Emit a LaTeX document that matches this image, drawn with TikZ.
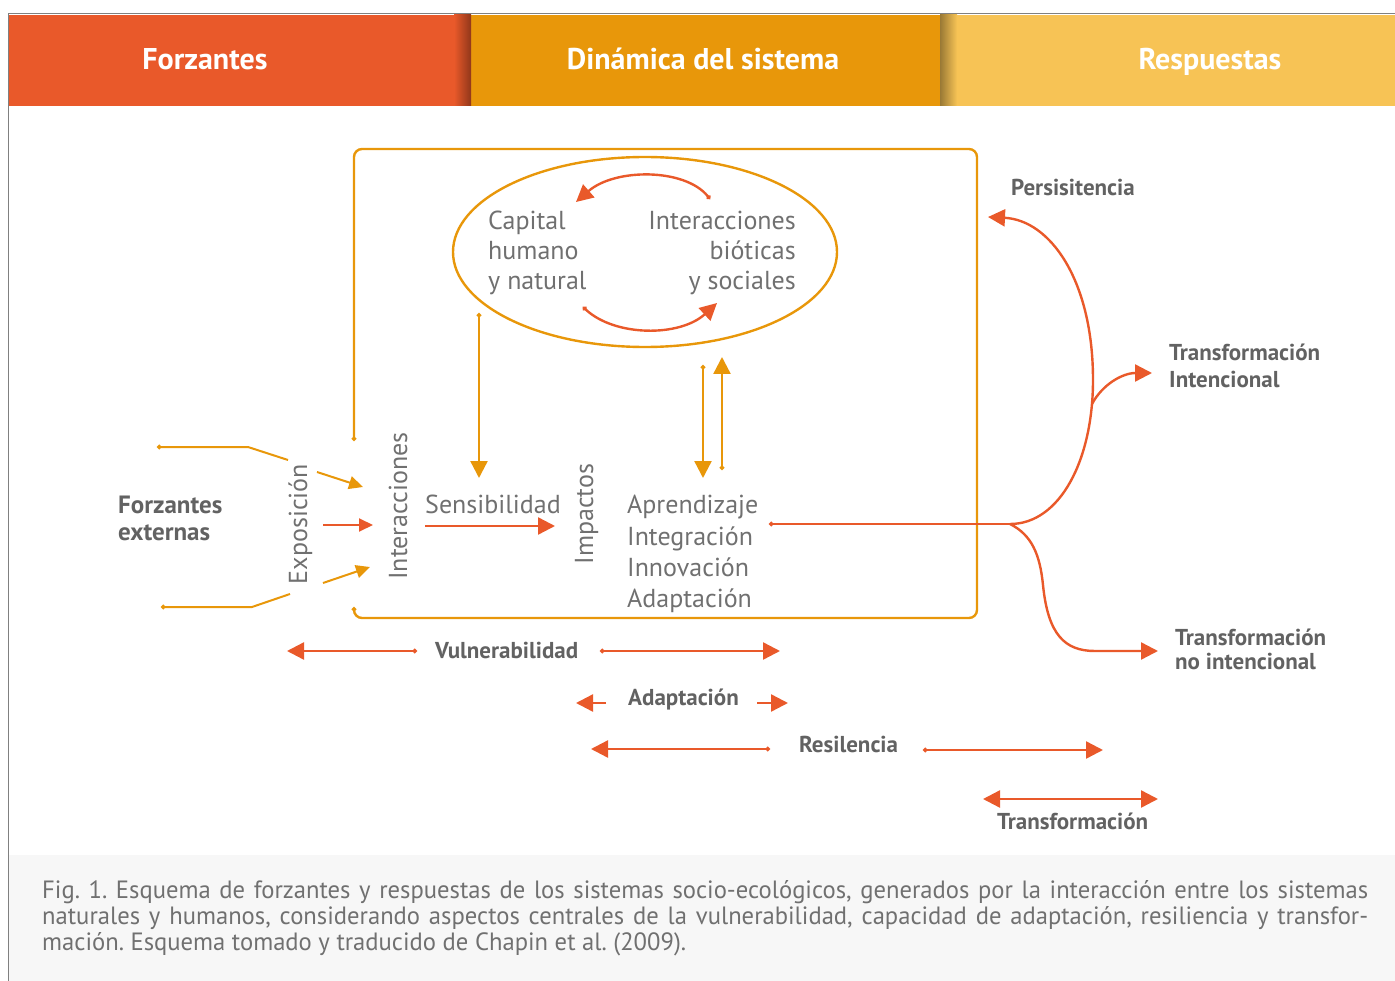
\documentclass[tikz,border=0pt]{standalone}
\usepackage{fontspec}
\setmainfont{PT Sans}
\newfontfamily\capfont[FakeStretch=0.985]{PT Sans}
\usetikzlibrary{arrows.meta,calc,shapes.geometric}
\definecolor{cRed}{HTML}{E9592A}
\definecolor{cOr}{HTML}{E8970A}
\definecolor{cYel}{HTML}{F7C355}
\definecolor{cTxt}{HTML}{626262}
\definecolor{cLight}{HTML}{707070}
\definecolor{cCap}{HTML}{F7F7F7}
\tikzset{
  ptri/.tip={Triangle[length=17pt,width=17pt]},
  stri/.tip={Triangle[length=14pt,width=13pt]},
  pdot/.tip={Circle[length=4.5pt]},
  hdr/.style={text=white,font=\bfseries\fontsize{30}{34}\selectfont,anchor=base,inner sep=0pt},
  lbl/.style={text=cTxt,font=\bfseries\fontsize{23}{27}\selectfont,anchor=base west,inner sep=0pt},
  bigl/.style={text=cTxt,font=\bfseries\fontsize{25}{28}\selectfont,anchor=base west,inner sep=0pt},
  lite/.style={text=cLight,font=\fontsize{26}{30}\selectfont,inner sep=0pt},
  rl/.style={draw=cRed,line width=2.4pt},
  ol/.style={draw=cOr,line width=2.4pt},
  thin/.style={line width=2pt}
}
\begin{document}
\frenchspacing
\begin{tikzpicture}[x=1pt,y=-1pt]
\useasboundingbox (0,0) rectangle (1395,981);
% header bands
\fill[cRed] (8,15) rectangle (471,106);
\fill[cOr] (471,15) rectangle (940,106);
\fill[cYel] (940,15) rectangle (1395,106);
\shade[left color=cRed, right color=cRed!62!black] (454,15) rectangle (471,106);
\shade[left color=cYel!62!black, right color=cYel] (940,15) rectangle (957,106);
\draw[gray,line width=1pt] (8,14) -- (1395,14);
\draw[gray,line width=1pt] (8,14) -- (8,981);
\node[hdr] (h1) at (205,70) {Forzantes};
\node[hdr] (h2) at (703,70) {Dinámica del sistema};
\node[hdr] (h3) at (1210,70) {Respuestas};
% caption background
\fill[cCap] (9,855) rectangle (1395,981);
\node[anchor=north west,inner sep=0pt,text width=1326pt,align=justify,text=cLight,
      font=\capfont\fontsize{25}{26}\selectfont] (cap) at (42,880)
 {Fig. 1. Esquema de forzantes y respuestas de los sistemas socio-ecológicos, generados por la interacción entre los sistemas\linebreak naturales y humanos, considerando aspectos centrales de la vulnerabilidad, capacidad de adaptación, resiliencia y transfor-\linebreak mación. Esquema tomado y traducido de Chapin et al. (2009).};
% main frame
\coordinate (fA) at (354,441);
\coordinate (fB) at (354,149);
\coordinate (fC) at (977,149);
\coordinate (fD) at (977,618);
\coordinate (fE) at (354,618);
\coordinate (fF) at (354,607);
\draw[ol,rounded corners=8pt,pdot-pdot] (fA) -- (fB) -- (fC) -- (fD) -- (fE) -- (fF);
% ellipse
\node[draw=cOr,line width=2.4pt,ellipse,minimum width=384pt,minimum height=190pt,inner sep=0pt] (ell) at (645,252) {};
\node[lite,anchor=base west] (c1) at (488,230) {Capital};
\node[lite,anchor=base west] (c2) at (488,260) {humano};
\node[lite,anchor=base west] (c3) at (488,290) {y natural};
\node[lite,anchor=base east] (i1) at (796,230) {Interacciones};
\node[lite,anchor=base east] (i2) at (796,260) {bióticas};
\node[lite,anchor=base east] (i3) at (796,290) {y sociales};
\coordinate (a1s) at (710,199);
\coordinate (a1e) at (576,202);
\coordinate (a2s) at (583,307);
\coordinate (a2e) at (717,303);
\draw[rl,pdot-ptri] (a1s) .. controls (685,168) and (615,168) .. (a1e);
\draw[rl,pdot-ptri] (a2s) .. controls (615,337) and (680,337) .. (a2e);
% vertical arrows
\coordinate (v1s) at (479,313); \coordinate (v1e) at (479,478);
\coordinate (v2s) at (703,365); \coordinate (v2e) at (703,478);
\coordinate (v3s) at (722,470); \coordinate (v3e) at (722,357);
\draw[ol,pdot-ptri] (v1s) -- (v1e);
\draw[ol,pdot-ptri] (v2s) -- (v2e);
\draw[ol,pdot-ptri] (v3s) -- (v3e);
% inner texts
\node[lite,anchor=base west] (sens) at (425,513) {Sensibilidad};
\coordinate (s1) at (425,526); \coordinate (s2) at (555,526);
\draw[rl,-ptri] (s1) -- (s2);
\node[lite,anchor=base,rotate=90] (inter) at (407,506) {Interacciones};
\node[lite,anchor=base,rotate=90] (imp) at (593,514) {Impactos};
\node[lite,anchor=base,rotate=90] (expo) at (307,524) {Exposición};
\node[lite,anchor=base west] (ap1) at (627,513) {Aprendizaje};
\node[lite,anchor=base west] (ap2) at (627,545) {Integración};
\node[lite,anchor=base west] (ap3) at (627,576) {Innovación};
\node[lite,anchor=base west] (ap4) at (627,607) {Adaptación};
% forcing
\node[bigl] (fe1) at (118,513) {Forzantes};
\node[bigl] (fe2) at (118,540) {externas};
\coordinate (p1) at (157,447); \coordinate (p2) at (248,447); \coordinate (p3) at (288,460);
\draw[ol,thin,pdot-] (p1) -- (p2) -- (p3);
\coordinate (q1) at (161,607); \coordinate (q2) at (252,607); \coordinate (q3) at (290,594);
\draw[ol,thin,pdot-] (q1) -- (q2) -- (q3);
\coordinate (e1s) at (317,472); \coordinate (e1e) at (363,487);
\coordinate (e2s) at (323,525); \coordinate (e2e) at (373,525);
\coordinate (e3s) at (323,583); \coordinate (e3e) at (370,567);
\draw[ol,thin,-stri] (e1s) -- (e1e);
\draw[rl,thin,-stri] (e2s) -- (e2e);
\draw[ol,thin,-stri] (e3s) -- (e3e);
% responses
\coordinate (apd) at (769,524);
\coordinate (junc) at (1010,524);
\coordinate (persT) at (988,217);
\coordinate (br) at (1092,404);
\coordinate (intT) at (1152,373);
\coordinate (ntT) at (1158,651);
\draw[rl,pdot-] (apd) -- (junc);
\draw[rl,-ptri] (junc) .. controls (1060,524) and (1093,460) .. (1093,380) .. controls (1093,280) and (1050,220) .. (persT);
\draw[rl,-ptri] (br) .. controls (1102,385) and (1122,373) .. (intT);
\draw[rl,-ptri] (junc) .. controls (1032,535) and (1040,555) .. (1043,585) .. controls (1048,635) and (1065,651) .. (1095,651) -- (ntT);
\node[lbl] (pers) at (1011,196) {Persisitencia};
\node[lbl] (ti1) at (1169,361) {Transformación};
\node[lbl] (ti2) at (1169,388) {Intencional};
\node[lbl] (tn1) at (1175,645) {Transformación};
\node[lbl] (tn2) at (1175,669) {no intencional};
% bottom scale arrows
\coordinate (vu1) at (417,651); \coordinate (vu2) at (287,651);
\coordinate (vu3) at (600,651); \coordinate (vu4) at (780,651);
\draw[rl,pdot-ptri] (vu1) -- (vu2);
\draw[rl,pdot-ptri] (vu3) -- (vu4);
\node[lbl] (vul) at (435,658) {Vulnerabilidad};
\coordinate (ad1) at (606,703); \coordinate (ad2) at (576,703);
\coordinate (ad3) at (757,703); \coordinate (ad4) at (788,703);
\draw[rl,-ptri] (ad1) -- (ad2);
\draw[rl,-ptri] (ad3) -- (ad4);
\node[lbl] (ada) at (628,705) {Adaptación};
\coordinate (re1) at (770,749); \coordinate (re2) at (591,749);
\coordinate (re3) at (923,750); \coordinate (re4) at (1103,750);
\draw[rl,pdot-ptri] (re1) -- (re2);
\draw[rl,pdot-ptri] (re3) -- (re4);
\node[lbl] (res) at (799,752) {Resilencia};
\coordinate (tr1) at (983,799); \coordinate (tr2) at (1158,799);
\draw[rl,ptri-ptri] (tr1) -- (tr2);
\node[lbl] (tra) at (997,829) {Transformación};
\end{tikzpicture}
\end{document}
